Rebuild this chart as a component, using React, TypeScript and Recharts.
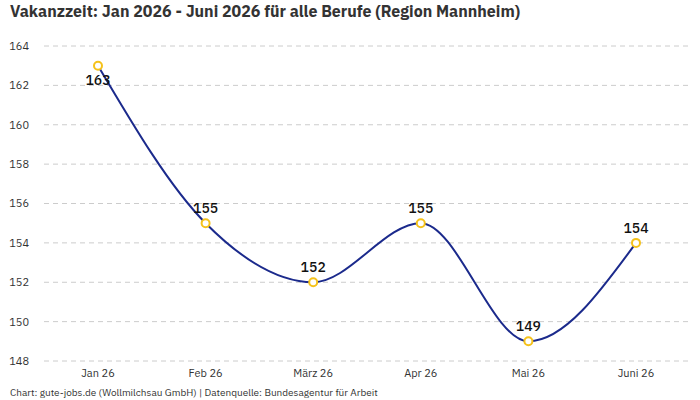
import { LineChart, Line, XAxis, YAxis, CartesianGrid, LabelList } from "recharts";

const months = ["Jan 26", "Feb 26", "März 26", "Apr 26", "Mai 26", "Juni 26"];
const vakanzTage = [163, 155, 152, 155, 149, 154];
const yTicks = [148, 150, 152, 154, 156, 158, 160, 162, 164];

const data = months.map((month, i) => ({ month, value: vakanzTage[i] }));

const FONT = "'IBM Plex Sans', Inter, 'Noto Sans', sans-serif";

// value labels sit above the dots, except the first which would hit the top edge
function ValueLabel(props: any) {
  const { x, y, value, index } = props;
  const dy = index === 0 ? 19 : -10;
  return (
    <text x={x} y={y + dy} textAnchor="middle" fontSize={14} fontWeight={500} fill="#111" fontFamily={FONT}>
      {value}
    </text>
  );
}

export default function App() {
  return (
    <div style={{ position: "fixed", top: 0, left: 0, width: 700, height: 400, background: "#fff", fontFamily: FONT }}>
      <div style={{ position: "absolute", left: 10, top: 0, fontSize: 16, fontWeight: 700, color: "#333", lineHeight: "22px" }}>
        Vakanzzeit: Jan 2026 - Juni 2026 für alle Berufe (Region Mannheim)
      </div>
      <LineChart width={700} height={400} data={data} margin={{ top: 46, right: 10, left: 0, bottom: 14 }}>
        <CartesianGrid vertical={false} stroke="#ccc" strokeDasharray="5 4" />
        <XAxis
          dataKey="month"
          axisLine={false}
          tickLine={false}
          height={25}
          padding={{ left: 54, right: 54 }}
          tick={{ fontSize: 11, fill: "#333", fontFamily: FONT }}
        />
        <YAxis
          domain={[148, 164]}
          ticks={yTicks}
          axisLine={false}
          tickLine={false}
          width={44}
          tickMargin={9}
          tick={{ fontSize: 11, fill: "#333", fontFamily: FONT }}
        />
        <Line
          type="monotone"
          dataKey="value"
          stroke="#1b2a8c"
          strokeWidth={2}
          dot={{ r: 4, stroke: "#f5c21b", strokeWidth: 2, fill: "#fff" }}
          activeDot={false}
          isAnimationActive={false}
        >
          <LabelList dataKey="value" content={<ValueLabel />} />
        </Line>
      </LineChart>
      <div style={{ position: "absolute", left: 10, top: 386, fontSize: 10, color: "#333", lineHeight: "14px" }}>
        Chart: gute-jobs.de (Wollmilchsau GmbH) | Datenquelle: Bundesagentur für Arbeit
      </div>
    </div>
  );
}
